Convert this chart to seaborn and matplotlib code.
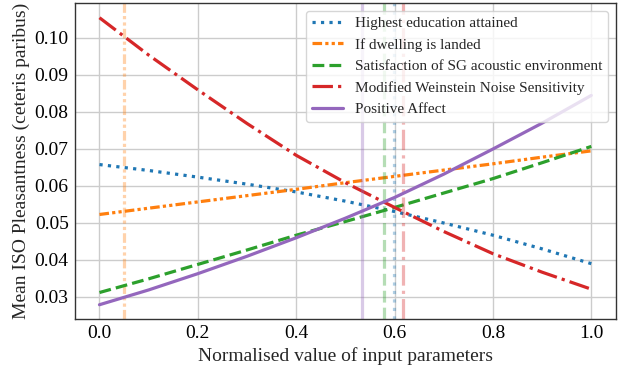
import numpy as np
import pandas as pd
import matplotlib
matplotlib.use("Agg")
import matplotlib.pyplot as plt
import seaborn as sns

# normalised input value (x) and mean ISO pleasantness for each parameter
x_vals = [0.0, 0.1, 0.2, 0.3, 0.4, 0.5, 0.6, 0.7, 0.8, 0.9, 1.0]

education = [0.0657, 0.0641, 0.0623, 0.0604, 0.0583, 0.0558, 0.0530, 0.0499, 0.0466, 0.0429, 0.0389]
landed = [0.0522, 0.0539, 0.0556, 0.0573, 0.0590, 0.0608, 0.0625, 0.0642, 0.0659, 0.0677, 0.0694]
satisfaction = [0.0311, 0.0348, 0.0387, 0.0426, 0.0466, 0.0503, 0.0541, 0.0580, 0.0619, 0.0662, 0.0706]
weinstein = [0.1054, 0.0953, 0.0859, 0.0768, 0.0682, 0.0608, 0.0541, 0.0476, 0.0416, 0.0366, 0.0320]
positive_affect = [0.0278, 0.0318, 0.0362, 0.0409, 0.0459, 0.0512, 0.0568, 0.0631, 0.0699, 0.0769, 0.0844]

labels = [
    "Highest education attained",
    "If dwelling is landed",
    "Satisfaction of SG acoustic environment",
    "Modified Weinstein Noise Sensitivity",
    "Positive Affect",
]
# mean normalised value of each parameter (vertical markers)
means = [0.598, 0.05, 0.578, 0.617, 0.533]

colors = ["#1f77b4", "#ff7f0e", "#2ca02c", "#d62728", "#9467bd"]
styles = [":", (0, (3, 1, 1, 1, 1, 1)), "--", "-.", "-"]

sns.set_theme(style="whitegrid")
plt.rcParams["font.family"] = ["Liberation Serif", "DejaVu Serif"]

fig, ax = plt.subplots(figsize=(6.24, 3.66), dpi=100)
fig.subplots_adjust(left=0.12, right=0.987, top=0.992, bottom=0.128)

series = [education, landed, satisfaction, weinstein, positive_affect]
for vals, lab, col, ls, m in zip(series, labels, colors, styles, means):
    sns.lineplot(x=x_vals, y=vals, ax=ax, color=col, linestyle=ls, linewidth=2.3, label=lab)
    ax.axvline(m, color=col, linestyle=ls, linewidth=2.3, alpha=0.35)

ax.set_xlabel("Normalised value of input parameters", fontsize=14, labelpad=4)
ax.set_ylabel("Mean ISO Pleasantness (ceteris paribus)", fontsize=14, labelpad=3)
ax.tick_params(axis="both", labelsize=14, colors="black")
ax.tick_params(axis="x", length=0, pad=4)
ax.tick_params(axis="y", length=3.5, width=1, pad=1, color="0.2")
ax.set_xticks([0.0, 0.2, 0.4, 0.6, 0.8, 1.0])
ax.set_yticks([0.03, 0.04, 0.05, 0.06, 0.07, 0.08, 0.09, 0.10])
ax.yaxis.set_major_formatter(matplotlib.ticker.FormatStrFormatter("%.2f"))
ax.set_ylim(0.0239, 0.1094)
for s in ax.spines.values():
    s.set_color("0.2")
    s.set_linewidth(1.0)
ax.grid(color="0.8", linewidth=1.0)

ax.legend(loc="upper right", fontsize=11, framealpha=0.8)

fig.savefig("out.png", dpi=100)
